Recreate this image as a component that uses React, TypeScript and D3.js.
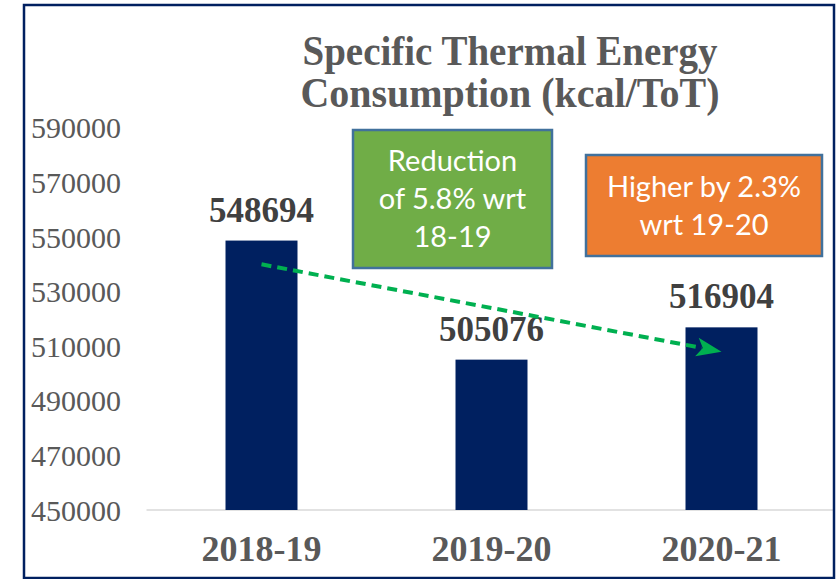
import React from 'react';
import * as d3 from 'd3';

const categories = ['2018-19', '2019-20', '2020-21'];
const values = [548694, 505076, 516904];
const yTicks = [450000, 470000, 490000, 510000, 530000, 550000, 570000, 590000];
const titleLines = ['Specific Thermal Energy', 'Consumption (kcal/ToT)'];

// trend arrow, in data units
const arrowFrom = { cat: '2018-19', value: 540000 };
const arrowTo = { cat: '2020-21', value: 508000 };

const notes = [
  { lines: ['Reduction', 'of 5.8% wrt', '18-19'], fill: '#70AD47', x: 353, y: 130, w: 199, h: 138 },
  { lines: ['Higher by 2.3%', 'wrt 19-20'], fill: '#ED7D31', x: 586, y: 155, w: 236, h: 101 },
];

const W = 836;
const H = 579;

const App = () => {
  const x = d3.scaleBand<string>()
    .domain(categories)
    .range([146.5, 836.5])
    .paddingInner(0.687)
    .paddingOuter(0.3435);

  const y = d3.scaleLinear()
    .domain([450000, 590000])
    .range([510, 127.8]);

  const cx = (c: string) => (x(c) ?? 0) + x.bandwidth() / 2;

  // arrow geometry
  const x1 = cx(arrowFrom.cat), y1 = y(arrowFrom.value);
  const x2 = cx(arrowTo.cat), y2 = y(arrowTo.value);
  const ang = Math.atan2(y2 - y1, x2 - x1);
  const ux = Math.cos(ang), uy = Math.sin(ang);
  const px = -uy, py = ux;
  const headLen = 25, headHalf = 9.5, notch = 19;
  const head = [
    [x2, y2],
    [x2 - ux * headLen + px * headHalf, y2 - uy * headLen + py * headHalf],
    [x2 - ux * notch, y2 - uy * notch],
    [x2 - ux * headLen - px * headHalf, y2 - uy * headLen - py * headHalf],
  ];
  const lineEnd = [x2 - ux * (notch + 1), y2 - uy * (notch + 1)];

  return (
    <svg
      width={W}
      height={H}
      viewBox={`0 0 ${W} ${H}`}
      style={{ position: 'absolute', left: 0, top: 0, background: '#fff' }}
    >
      {/* title */}
      {titleLines.map((t, i) => (
        <text
          key={t}
          x={510}
          y={65 + i * 42}
          textAnchor="middle"
          fill="#595959"
          textLength={i === 0 ? 415 : 419}
          lengthAdjust="spacingAndGlyphs"
          style={{ fontFamily: 'Liberation Serif', fontWeight: 'bold', fontSize: '42px' }}
        >
          {t}
        </text>
      ))}

      {/* y axis labels */}
      {yTicks.map(t => (
        <text
          key={t}
          x={121}
          y={y(t)}
          dy="0.35em"
          textAnchor="end"
          fill="#595959"
          style={{ fontFamily: 'Liberation Serif', fontSize: '30px' }}
        >
          {t}
        </text>
      ))}

      {/* baseline */}
      <line x1={146.5} x2={834} y1={y(450000)} y2={y(450000)} stroke="#D9D9D9" strokeWidth={1.5} />

      {/* bars */}
      {categories.map((c, i) => (
        <rect
          key={c}
          x={x(c)}
          y={y(values[i])}
          width={x.bandwidth()}
          height={y(450000) - y(values[i])}
          fill="#002060"
        />
      ))}

      {/* value labels */}
      {categories.map((c, i) => (
        <text
          key={`v-${c}`}
          x={cx(c)}
          y={y(values[i]) - 19}
          textAnchor="middle"
          fill="#404040"
          style={{ fontFamily: 'Liberation Serif', fontWeight: 'bold', fontSize: '35px' }}
        >
          {values[i]}
        </text>
      ))}

      {/* x axis labels */}
      {categories.map(c => (
        <text
          key={`x-${c}`}
          x={cx(c)}
          y={561}
          textAnchor="middle"
          fill="#595959"
          style={{ fontFamily: 'Liberation Serif', fontWeight: 'bold', fontSize: '36px' }}
        >
          {c}
        </text>
      ))}

      {/* note boxes */}
      {notes.map((n, i) => (
        <g key={i}>
          <rect x={n.x} y={n.y} width={n.w} height={n.h} fill={n.fill} stroke="#41719C" strokeWidth={2.5} />
          {n.lines.map((l, j) => (
            <text
              key={l}
              x={n.x + n.w / 2}
              y={n.y + n.h / 2 + (j - (n.lines.length - 1) / 2) * 38 + 10}
              textAnchor="middle"
              fill="#fff"
              style={{ fontFamily: 'Lato', fontSize: '29px' }}
            >
              {l}
            </text>
          ))}
        </g>
      ))}

      {/* trend arrow */}
      <line
        x1={x1}
        y1={y1}
        x2={lineEnd[0]}
        y2={lineEnd[1]}
        stroke="#00B050"
        strokeWidth={4}
        strokeDasharray="10 6"
      />
      <polygon points={head.map(p => p.join(',')).join(' ')} fill="#00B050" />

      {/* outer frame */}
      <rect x={24} y={5} width={810} height={573} fill="none" stroke="#002060" strokeWidth={2.5} />
    </svg>
  );
};

export default App;
